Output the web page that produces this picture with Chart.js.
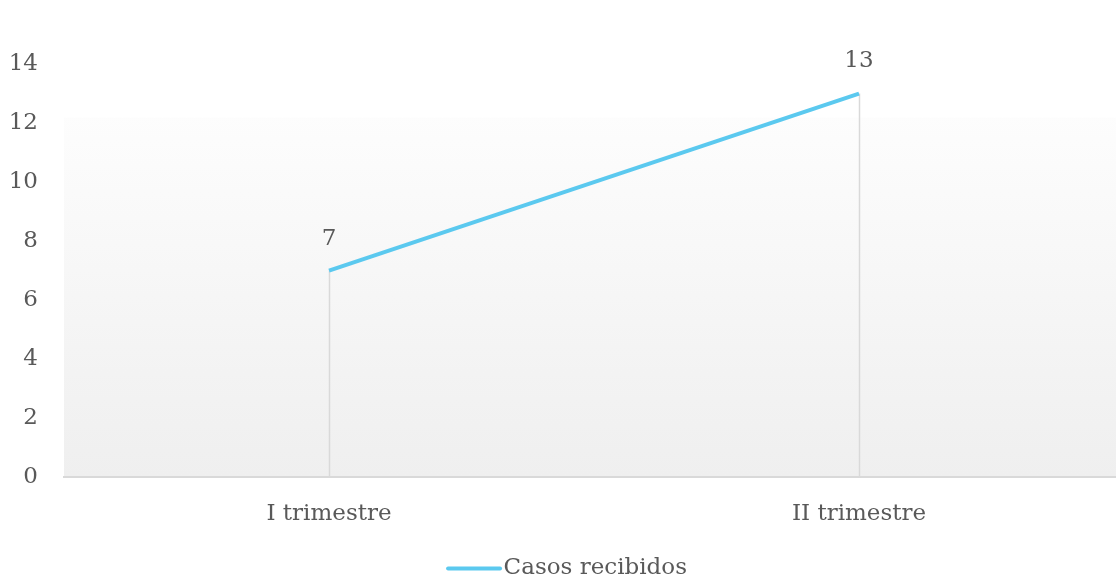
<!DOCTYPE html>
<html>
<head>
<meta charset="utf-8">
<script src="https://cdn.jsdelivr.net/npm/chart.js@4.4.1/dist/chart.umd.min.js"></script>
<style>
  html, body { margin: 0; padding: 0; background: #ffffff; overflow: hidden; }
  #wrap { position: relative; width: 1156px; height: 582px; }
</style>
</head>
<body>
<div id="wrap"><canvas id="c"></canvas></div>
<script>
const categories = ["I trimestre", "II trimestre"];
const seriesName = "Casos recibidos";
const seriesValues = [7, 13];
const yTicks = [0, 2, 4, 6, 8, 10, 12, 14];

const FONT = "'DejaVu Serif', serif";
const FS = 23;
const TEXT = "#595959";
const LINE = "#5bc9ef";

const bgPlugin = {
  id: 'bg',
  beforeDraw(chart) {
    const { ctx, chartArea: a } = chart;
    const g = ctx.createLinearGradient(0, a.top, 0, a.bottom);
    g.addColorStop(0, 'rgba(255,255,255,0)');
    g.addColorStop(0.12, '#fdfdfd');
    g.addColorStop(1, '#efefef');
    ctx.save();
    ctx.fillStyle = g;
    const y0 = a.top + (a.bottom - a.top) * 0.13;
    ctx.fillRect(a.left, y0, a.right - a.left, a.bottom - y0);
    ctx.restore();
  },
  beforeDatasetsDraw(chart) {
    const { ctx } = chart;
    const meta = chart.getDatasetMeta(0);
    const yb = chart.scales.y.getPixelForValue(0);
    ctx.save();
    ctx.strokeStyle = '#d9d9d9';
    ctx.lineWidth = 1.5;
    meta.data.forEach(p => {
      ctx.beginPath();
      ctx.moveTo(Math.round(p.x) + 0.5, p.y);
      ctx.lineTo(Math.round(p.x) + 0.5, yb);
      ctx.stroke();
    });
    ctx.restore();
  },
  afterDatasetsDraw(chart) {
    const { ctx } = chart;
    const meta = chart.getDatasetMeta(0);
    ctx.save();
    ctx.fillStyle = TEXT;
    ctx.font = FS + "px " + FONT;
    ctx.textAlign = 'center';
    ctx.textBaseline = 'middle';
    meta.data.forEach((p, i) => {
      ctx.fillText(String(seriesValues[i]), p.x, p.y - 32);
    });
    ctx.restore();
  },
  afterDraw(chart) {
    const boxes = chart.legend && chart.legend.legendHitBoxes;
    if (!boxes) return;
    const { ctx } = chart;
    ctx.save();
    ctx.strokeStyle = LINE;
    ctx.lineWidth = 4;
    ctx.lineCap = 'round';
    boxes.forEach(b => {
      const y = b.top + FS / 2;
      ctx.beginPath();
      ctx.moveTo(b.left + 1, y);
      ctx.lineTo(b.left + 53, y);
      ctx.stroke();
    });
    ctx.restore();
  }
};

new Chart(document.getElementById('c'), {
  type: 'line',
  data: {
    labels: categories,
    datasets: [{
      label: seriesName,
      data: seriesValues,
      borderColor: LINE,
      backgroundColor: LINE,
      borderWidth: 4,
      pointRadius: 0,
      tension: 0,
      fill: false
    }]
  },
  options: {
    responsive: true,
    maintainAspectRatio: false,
    animation: false,
    layout: { padding: { top: 64, right: 32, left: 10, bottom: -8 } },
    plugins: {
      tooltip: { enabled: false },
      legend: {
        position: 'bottom',
        labels: {
          color: TEXT,
          font: { family: FONT, size: FS },
          boxWidth: 45,
          boxHeight: 4,
          padding: 6,
          generateLabels(chart) {
            return chart.data.datasets.map((d, i) => ({
              text: d.label,
              fillStyle: 'rgba(0,0,0,0)',
              strokeStyle: 'rgba(0,0,0,0)',
              lineWidth: 0,
              fontColor: TEXT,
              datasetIndex: i
            }));
          }
        }
      }
    },
    scales: {
      x: {
        offset: true,
        grid: { display: false, drawTicks: false },
        border: { display: true, color: '#d9d9d9', width: 2 },
        ticks: { color: TEXT, font: { family: FONT, size: FS }, padding: 23 }
      },
      y: {
        min: 0,
        max: 14,
        afterBuildTicks(scale) { scale.ticks = yTicks.map(v => ({ value: v })); },
        afterFit(scale) { scale.width = 54; },
        grid: { display: false, drawTicks: false },
        border: { display: false },
        ticks: { color: TEXT, font: { family: FONT, size: FS }, padding: 26 }
      }
    }
  },
  plugins: [bgPlugin]
});
</script>
</body>
</html>
